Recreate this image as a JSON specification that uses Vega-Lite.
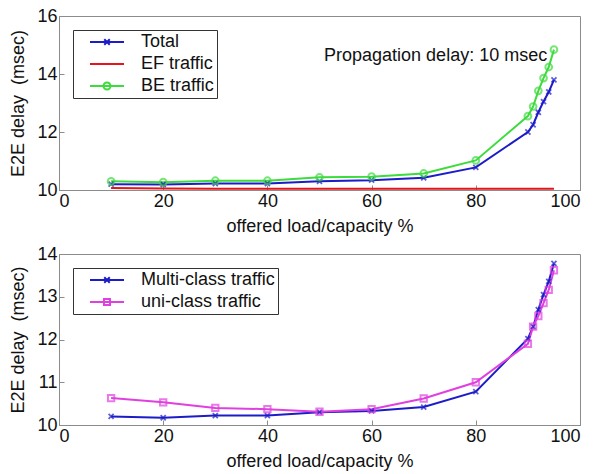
{
  "$schema": "https://vega.github.io/schema/vega-lite/v6.json",
  "padding": {"left": 9, "top": 6, "right": 2, "bottom": 2},
  "spacing": 8,
  "datasets": {
    "top": [
      {"load": 10, "series": "Total", "delay": 10.2},
      {"load": 20, "series": "Total", "delay": 10.19},
      {"load": 30, "series": "Total", "delay": 10.22},
      {"load": 40, "series": "Total", "delay": 10.22},
      {"load": 50, "series": "Total", "delay": 10.3},
      {"load": 60, "series": "Total", "delay": 10.34},
      {"load": 70, "series": "Total", "delay": 10.42},
      {"load": 80, "series": "Total", "delay": 10.78},
      {"load": 90, "series": "Total", "delay": 12.0},
      {"load": 91, "series": "Total", "delay": 12.25},
      {"load": 92, "series": "Total", "delay": 12.68},
      {"load": 93, "series": "Total", "delay": 13.05},
      {"load": 94, "series": "Total", "delay": 13.38},
      {"load": 95, "series": "Total", "delay": 13.8},
      {"load": 10, "series": "EF traffic", "delay": 10.07},
      {"load": 20, "series": "EF traffic", "delay": 10.05},
      {"load": 30, "series": "EF traffic", "delay": 10.04},
      {"load": 40, "series": "EF traffic", "delay": 10.04},
      {"load": 50, "series": "EF traffic", "delay": 10.04},
      {"load": 60, "series": "EF traffic", "delay": 10.04},
      {"load": 70, "series": "EF traffic", "delay": 10.04},
      {"load": 80, "series": "EF traffic", "delay": 10.04},
      {"load": 90, "series": "EF traffic", "delay": 10.04},
      {"load": 95, "series": "EF traffic", "delay": 10.04},
      {"load": 10, "series": "BE traffic", "delay": 10.3},
      {"load": 20, "series": "BE traffic", "delay": 10.27},
      {"load": 30, "series": "BE traffic", "delay": 10.32},
      {"load": 40, "series": "BE traffic", "delay": 10.32},
      {"load": 50, "series": "BE traffic", "delay": 10.44},
      {"load": 60, "series": "BE traffic", "delay": 10.46},
      {"load": 70, "series": "BE traffic", "delay": 10.57},
      {"load": 80, "series": "BE traffic", "delay": 11.02},
      {"load": 90, "series": "BE traffic", "delay": 12.55},
      {"load": 91, "series": "BE traffic", "delay": 12.88},
      {"load": 92, "series": "BE traffic", "delay": 13.42},
      {"load": 93, "series": "BE traffic", "delay": 13.86},
      {"load": 94, "series": "BE traffic", "delay": 14.24},
      {"load": 95, "series": "BE traffic", "delay": 14.84}
    ],
    "bottom": [
      {"load": 10, "series": "Multi-class traffic", "delay": 10.2},
      {"load": 20, "series": "Multi-class traffic", "delay": 10.17},
      {"load": 30, "series": "Multi-class traffic", "delay": 10.22},
      {"load": 40, "series": "Multi-class traffic", "delay": 10.22},
      {"load": 50, "series": "Multi-class traffic", "delay": 10.3},
      {"load": 60, "series": "Multi-class traffic", "delay": 10.33},
      {"load": 70, "series": "Multi-class traffic", "delay": 10.42},
      {"load": 80, "series": "Multi-class traffic", "delay": 10.78},
      {"load": 90, "series": "Multi-class traffic", "delay": 12.02},
      {"load": 91, "series": "Multi-class traffic", "delay": 12.3},
      {"load": 92, "series": "Multi-class traffic", "delay": 12.7},
      {"load": 93, "series": "Multi-class traffic", "delay": 13.05},
      {"load": 94, "series": "Multi-class traffic", "delay": 13.36},
      {"load": 95, "series": "Multi-class traffic", "delay": 13.78},
      {"load": 10, "series": "uni-class traffic", "delay": 10.63},
      {"load": 20, "series": "uni-class traffic", "delay": 10.53},
      {"load": 30, "series": "uni-class traffic", "delay": 10.4},
      {"load": 40, "series": "uni-class traffic", "delay": 10.37},
      {"load": 50, "series": "uni-class traffic", "delay": 10.31},
      {"load": 60, "series": "uni-class traffic", "delay": 10.37},
      {"load": 70, "series": "uni-class traffic", "delay": 10.62},
      {"load": 80, "series": "uni-class traffic", "delay": 11.0},
      {"load": 90, "series": "uni-class traffic", "delay": 11.9},
      {"load": 91, "series": "uni-class traffic", "delay": 12.3},
      {"load": 92, "series": "uni-class traffic", "delay": 12.55},
      {"load": 93, "series": "uni-class traffic", "delay": 12.85},
      {"load": 94, "series": "uni-class traffic", "delay": 13.16},
      {"load": 95, "series": "uni-class traffic", "delay": 13.62}
    ],
    "note": [{"load": 93.7, "delay": 14.62, "label": "Propagation delay: 10 msec"}]
  },
  "vconcat": [
    {
      "width": 521,
      "height": 174,
      "layer": [
        {
          "data": {"name": "top"},
          "mark": {"type": "line", "strokeWidth": 2},
          "encoding": {
            "x": {"field": "load", "type": "quantitative", "scale": {"domain": [0, 100]}, "axis": {"values": [0, 20, 40, 60, 80, 100], "title": "offered load/capacity %"}},
            "y": {"field": "delay", "type": "quantitative", "scale": {"domain": [10, 16]}, "axis": {"values": [10, 12, 14, 16], "title": "E2E delay\u00a0\u00a0(msec)"}},
            "color": {
              "field": "series", "type": "nominal", "sort": null,
              "scale": {"domain": ["Total", "EF traffic", "BE traffic"], "range": ["#1c1cc8", "#e3161c", "#3cdc3c"]},
              "legend": {
                "title": null, "orient": "top-left", "offset": 14,
                "symbolSize": 100, "symbolStrokeWidth": 2,
                "labelExpr": "datum.label + '\u00a0'",
                "encode": {"symbols": {"update": {"shape": {"signal": "datum.value === 'Total' ? 'M1,0L7.8,0M3.85,-0.55L4.95,0.55M3.85,0.55L4.95,-0.55' : datum.value === 'BE traffic' ? 'M1,0L7.8,0M5.1,0A0.7,0.7 0 1 1 3.7,0A0.7,0.7 0 1 1 5.1,0' : 'M1,0L7.8,0'"}}}}
              }
            }
          }
        },
        {
          "data": {"name": "top"},
          "transform": [{"filter": "datum.series === 'Total'"}],
          "mark": {"type": "point", "filled": false, "strokeWidth": 1.8, "size": 40, "shape": "M-0.8,-0.8L0.8,0.8M-0.8,0.8L0.8,-0.8", "color": "#1c1cc8"},
          "encoding": {
            "x": {"field": "load", "type": "quantitative"},
            "y": {"field": "delay", "type": "quantitative"}
          }
        },
        {
          "data": {"name": "top"},
          "transform": [{"filter": "datum.series === 'BE traffic'"}],
          "mark": {"type": "point", "filled": false, "strokeWidth": 2, "size": 45, "shape": "circle", "color": "#3cdc3c"},
          "encoding": {
            "x": {"field": "load", "type": "quantitative"},
            "y": {"field": "delay", "type": "quantitative"}
          }
        },
        {
          "data": {"name": "note"},
          "mark": {"type": "text", "align": "right", "baseline": "middle", "fontSize": 18, "font": "Liberation Sans", "color": "#111"},
          "encoding": {
            "x": {"field": "load", "type": "quantitative"},
            "y": {"field": "delay", "type": "quantitative"},
            "text": {"field": "label"}
          }
        }
      ]
    },
    {
      "width": 521,
      "height": 171,
      "layer": [
        {
          "data": {"name": "bottom"},
          "mark": {"type": "line", "strokeWidth": 2},
          "encoding": {
            "x": {"field": "load", "type": "quantitative", "scale": {"domain": [0, 100]}, "axis": {"values": [0, 20, 40, 60, 80, 100], "title": "offered load/capacity %"}},
            "y": {"field": "delay", "type": "quantitative", "scale": {"domain": [10, 14]}, "axis": {"values": [10, 11, 12, 13, 14], "title": "E2E delay\u00a0\u00a0(msec)"}},
            "color": {
              "field": "series", "type": "nominal", "sort": null,
              "scale": {"domain": ["Multi-class traffic", "uni-class traffic"], "range": ["#1c1cc8", "#e040e0"]},
              "legend": {
                "title": null, "orient": "top-left", "offset": 14,
                "symbolSize": 100, "symbolStrokeWidth": 2,
                "labelExpr": "datum.label + '\u00a0'",
                "encode": {"symbols": {"update": {"shape": {"signal": "datum.value === 'Multi-class traffic' ? 'M1,0L7.8,0M3.85,-0.55L4.95,0.55M3.85,0.55L4.95,-0.55' : 'M1,0L7.8,0M3.8,-0.6L5,-0.6L5,0.6L3.8,0.6Z'"}}}}
              }
            }
          }
        },
        {
          "data": {"name": "bottom"},
          "transform": [{"filter": "datum.series === 'Multi-class traffic'"}],
          "mark": {"type": "point", "filled": false, "strokeWidth": 1.8, "size": 40, "shape": "M-0.8,-0.8L0.8,0.8M-0.8,0.8L0.8,-0.8", "color": "#1c1cc8"},
          "encoding": {
            "x": {"field": "load", "type": "quantitative"},
            "y": {"field": "delay", "type": "quantitative"}
          }
        },
        {
          "data": {"name": "bottom"},
          "transform": [{"filter": "datum.series === 'uni-class traffic'"}],
          "mark": {"type": "point", "filled": false, "strokeWidth": 2, "size": 40, "shape": "square", "color": "#e040e0"},
          "encoding": {
            "x": {"field": "load", "type": "quantitative"},
            "y": {"field": "delay", "type": "quantitative"}
          }
        }
      ]
    }
  ],
  "resolve": {"scale": {"color": "independent"}, "legend": {"color": "independent"}},
  "config": {
    "font": "Liberation Sans",
    "view": {"stroke": "#8c8c8c", "strokeWidth": 1},
    "axis": {
      "grid": false,
      "domainColor": "#8c8c8c",
      "tickColor": "#8c8c8c",
      "tickSize": -5,
      "labelPadding": 7,
      "labelFontSize": 18,
      "labelColor": "#111",
      "titleFontSize": 18,
      "titleFontWeight": "normal",
      "titleColor": "#111",
      "labelFont": "Liberation Sans",
      "titleFont": "Liberation Sans"
    },
    "axisX": {"titlePadding": 7},
    "axisY": {"titlePadding": 9},
    "legend": {
      "strokeColor": "#333",
      "fillColor": "white",
      "padding": 3,
      "labelFontSize": 18,
      "labelColor": "#111",
      "labelFont": "Liberation Sans",
      "rowPadding": 4,
      "labelOffset": 47
    }
  }
}
